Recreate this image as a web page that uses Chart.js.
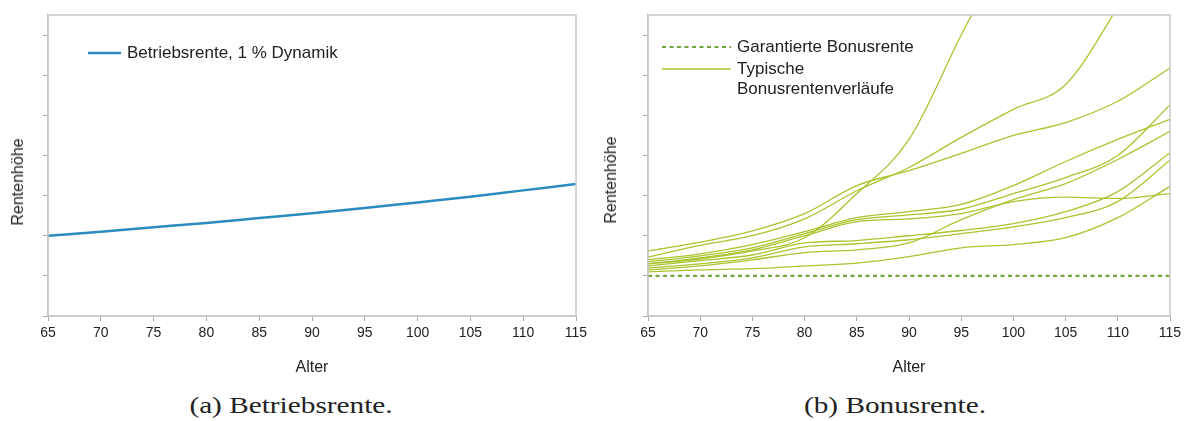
<!DOCTYPE html>
<html>
<head>
<meta charset="utf-8">
<script src="https://cdn.jsdelivr.net/npm/chart.js@4.4.1/dist/chart.umd.min.js"></script>
<style>
  body { margin: 0; background: #fff; width: 1189px; height: 421px; position: relative; overflow: hidden;
         font-family: "Liberation Sans", Arial, sans-serif; color: #222; }
  .box { position: absolute; top: 0; height: 385px; }
  .ytitle { position: absolute; transform: translate(-50%, -50%) rotate(-90deg); font-size: 16px; white-space: nowrap; }
  .legend { position: absolute; font-size: 17px; line-height: 20px; }
  .legend .row { display: flex; align-items: flex-start; }
  .legend svg { flex: none; margin-right: 6px; }
  .caption { position: absolute; top: 391px; transform: translateX(-50%) scaleX(1.22); white-space: nowrap;
             font-family: "Liberation Serif", serif; font-size: 24px; line-height: 28px; }
</style>
</head>
<body>
<div class="box" style="left:0;width:595px"><canvas id="chartA"></canvas></div>
<div class="box" style="left:595px;width:594px"><canvas id="chartB"></canvas></div>

<div class="ytitle" style="left:18px;top:182px">Rentenhöhe</div>
<div class="ytitle" style="left:611px;top:180px">Rentenhöhe</div>

<div class="legend" style="left:88px;top:43px">
  <div class="row"><svg width="33" height="20"><line x1="0" y1="10" x2="33" y2="10" stroke="#2a8cbf" stroke-width="2.5"/></svg>Betriebsrente, 1 % Dynamik</div>
</div>
<div class="legend" style="left:662px;top:37px">
  <div class="row"><svg width="69" height="20"><line x1="0" y1="10" x2="69" y2="10" stroke="#74a23c" stroke-width="2" stroke-dasharray="4 3.5"/></svg>Garantierte Bonusrente</div>
  <div class="row" style="margin-top:2px"><svg width="69" height="20"><line x1="0" y1="10" x2="69" y2="10" stroke="#a9c52f" stroke-width="1.3"/></svg>Typische<br>Bonusrentenverläufe</div>
</div>

<div class="caption" style="left:291px">(a) Betriebsrente.</div>
<div class="caption" style="left:895px">(b) Bonusrente.</div>

<script>
// Alter (x-Achse)
const ages = [65, 70, 75, 80, 85, 90, 95, 100, 105, 110, 115];

// (a) Betriebsrente mit 1 % Dynamik
const betriebsrente = [2.00, 2.10, 2.21, 2.32, 2.44, 2.56, 2.69, 2.83, 2.97, 3.13, 3.29];

// (b) Bonusrente
const garantiert = [1, 1, 1, 1, 1, 1, 1, 1, 1, 1, 1];
const verlauf1 = [1.30, 1.42, 1.62, 1.95, 3.05, 4.40, 7.00, 9.50, null, null, null];
const verlauf2 = [1.47, 1.76, 2.00, 2.42, 3.12, 3.70, 4.45, 5.15, 5.77, 7.70, 10.0];
const verlauf3 = [1.62, 1.84, 2.12, 2.55, 3.25, 3.62, 4.05, 4.50, 4.82, 5.35, 6.18];
const verlauf4 = [1.40, 1.55, 1.78, 2.10, 2.45, 2.60, 2.78, 3.25, 3.85, 4.40, 4.90];
const verlauf5 = [1.35, 1.50, 1.70, 2.05, 2.40, 2.52, 2.66, 3.05, 3.45, 4.00, 5.26];
const verlauf6 = [1.30, 1.45, 1.65, 2.00, 2.35, 2.42, 2.55, 2.85, 2.96, 2.93, 3.05];
const verlauf7 = [1.15, 1.25, 1.40, 1.58, 1.65, 1.82, 2.40, 2.90, 3.30, 3.90, 4.60];
const verlauf8 = [1.25, 1.38, 1.52, 1.82, 1.88, 2.00, 2.13, 2.30, 2.60, 3.10, 4.07];
const verlauf9 = [1.20, 1.30, 1.45, 1.72, 1.80, 1.90, 2.05, 2.22, 2.45, 2.85, 3.88];
const verlauf10 = [1.10, 1.15, 1.18, 1.25, 1.32, 1.48, 1.70, 1.78, 1.95, 2.45, 3.23];

const bonusVerlaeufe = [verlauf1, verlauf2, verlauf3, verlauf4, verlauf5,
                        verlauf6, verlauf7, verlauf8, verlauf9, verlauf10];

const points = vals => ages.map((a, i) => ({ x: a, y: vals[i] }));

// grey box round the plot area
const frame = {
  id: 'frame',
  afterDraw(chart) {
    const { ctx, chartArea: a } = chart;
    ctx.save();
    ctx.strokeStyle = '#c8c8c8';
    ctx.lineWidth = 1.5;
    ctx.strokeRect(a.left, a.top, a.right - a.left, a.bottom - a.top);
    ctx.restore();
  }
};

function makeOptions(yWidth) {
  return {
    responsive: true,
    maintainAspectRatio: false,
    animation: false,
    layout: { padding: { top: 15, right: 19, left: 0, bottom: 0 } },
    elements: { point: { radius: 0 } },
    plugins: { legend: { display: false }, tooltip: { enabled: false } },
    scales: {
      x: {
        type: 'linear', min: 65, max: 115,
        ticks: { stepSize: 5, autoSkip: false, maxRotation: 0, padding: 4, color: '#222',
                 font: { family: 'Liberation Sans', size: 14 } },
        grid: { drawOnChartArea: false, tickLength: 5, color: '#aaa' },
        border: { color: '#c8c8c8', width: 1.5 },
        title: { display: true, text: 'Alter', color: '#222',
                 font: { family: 'Liberation Sans', size: 16 }, padding: { top: 0, bottom: 8 } },
        afterFit(s) { s.height = 69; }
      },
      y: {
        min: 0, max: 7.5,
        ticks: { stepSize: 1, includeBounds: false, padding: 0, callback: () => '' },
        grid: { drawOnChartArea: false, tickLength: 5, color: '#aaa' },
        border: { color: '#c8c8c8', width: 1.5 },
        afterFit(s) { s.width = yWidth; }
      }
    }
  };
}

new Chart(document.getElementById('chartA'), {
  type: 'line',
  data: {
    datasets: [{
      label: 'Betriebsrente, 1 % Dynamik',
      data: points(betriebsrente),
      borderColor: '#2a8cbf',
      borderWidth: 2.5,
      cubicInterpolationMode: 'monotone'
    }]
  },
  options: makeOptions(48),
  plugins: [frame]
});

const bonusSets = bonusVerlaeufe.map((v, i) => ({
  label: i === 0 ? 'Typische Bonusrentenverläufe' : '',
  data: points(v),
  borderColor: '#a9c52f',
  borderWidth: 1.3,
  cubicInterpolationMode: 'monotone'
}));

new Chart(document.getElementById('chartB'), {
  type: 'line',
  data: {
    datasets: [{
      label: 'Garantierte Bonusrente',
      data: points(garantiert),
      borderColor: '#74a23c',
      borderWidth: 2.2,
      borderDash: [4, 3.5]
    }, ...bonusSets]
  },
  options: makeOptions(53),
  plugins: [frame]
});
</script>
</body>
</html>
